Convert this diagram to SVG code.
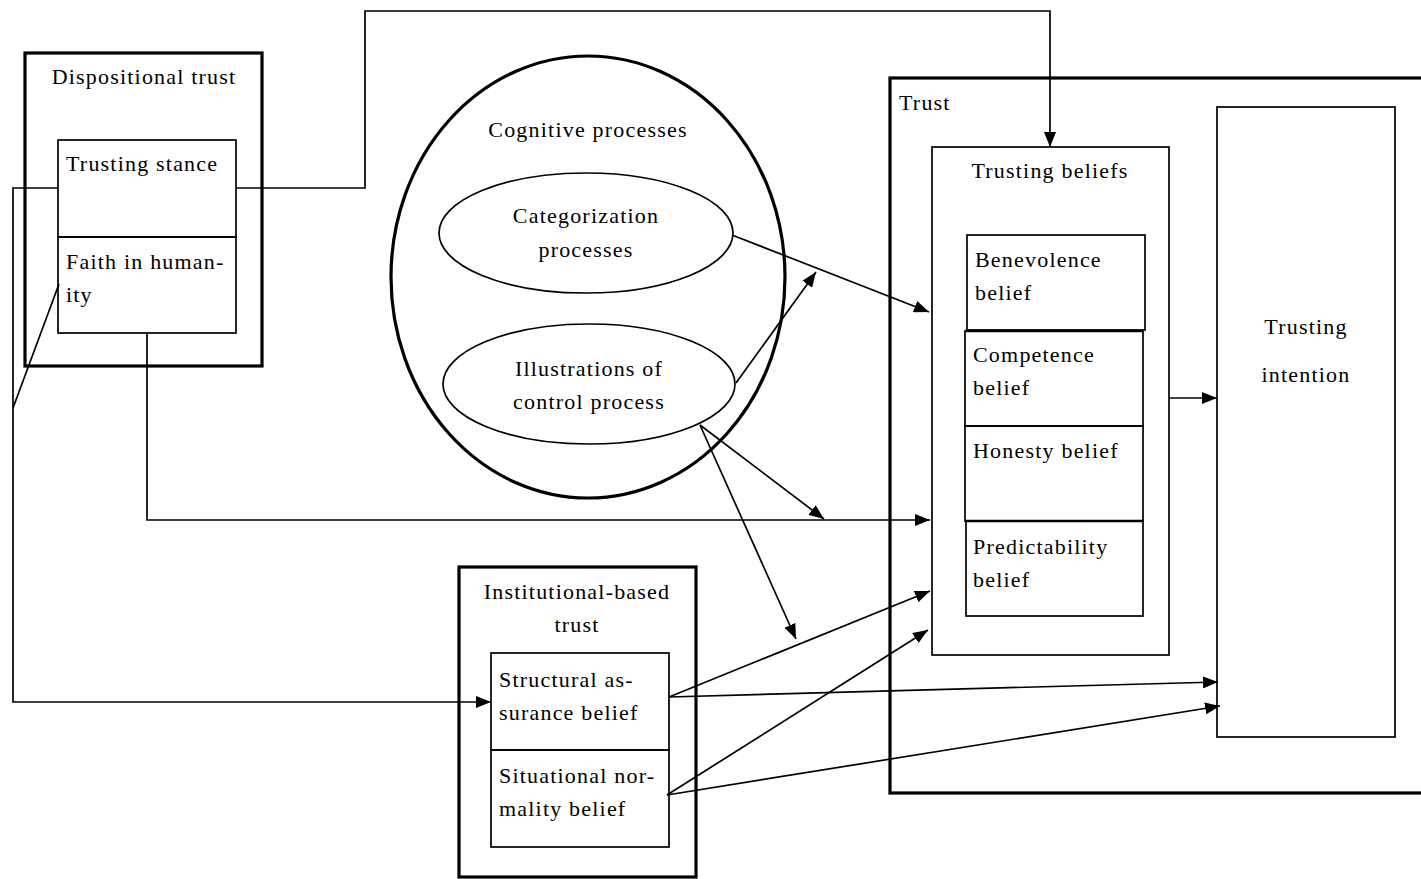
<svg xmlns="http://www.w3.org/2000/svg" width="1421" height="879" viewBox="0 0 1421 879">
  <style>
    text { font-family: "Liberation Serif", "Times New Roman", serif; font-size: 22px; fill: #000; letter-spacing: 1.2px; }
    .mid { text-anchor: middle; }
    .thick { fill: none; stroke: #000; stroke-width: 3.2; }
    .thin { fill: none; stroke: #000; stroke-width: 1.7; }
    .wire { fill: none; stroke: #000; stroke-width: 1.7; }
  </style>
  <defs>
    <marker id="arrow" viewBox="0 0 15 12" refX="15" refY="6" markerWidth="15" markerHeight="12" markerUnits="userSpaceOnUse" orient="auto">
      <path d="M0,0 L15,6 L0,12 Z" fill="#000"/>
    </marker>
  </defs>
  <rect width="1421" height="879" fill="#fff"/>

  <!-- Trust (outer container, right edge runs off the canvas) -->
  <g id="trust">
    <rect x="890" y="78" width="545" height="715" class="thick"/>
    <text x="899" y="110">Trust</text>
  </g>

  <!-- Trusting beliefs with its four components -->
  <g id="trusting-beliefs">
    <rect x="932" y="147" width="237" height="508" class="thin"/>
    <text x="1050" y="178" class="mid">Trusting beliefs</text>
  </g>
  <g id="benevolence">
    <rect x="967" y="235" width="178" height="95" class="thin"/>
    <text x="975" y="267">Benevolence</text>
    <text x="975" y="300">belief</text>
  </g>
  <g id="competence">
    <rect x="965" y="331" width="178" height="95" class="thin"/>
    <line x1="965" y1="331" x2="1143" y2="331" stroke="#000" stroke-width="2.6"/>
    <text x="973" y="362">Competence</text>
    <text x="973" y="395">belief</text>
  </g>
  <g id="honesty">
    <rect x="965" y="426" width="178" height="95" class="thin"/>
    <text x="973" y="458">Honesty belief</text>
  </g>
  <g id="predictability">
    <rect x="966" y="521" width="177" height="95" class="thin"/>
    <line x1="966" y1="521" x2="1143" y2="521" stroke="#000" stroke-width="2.6"/>
    <text x="973" y="554">Predictability</text>
    <text x="973" y="587">belief</text>
  </g>

  <!-- Trusting intention -->
  <g id="trusting-intention">
    <rect x="1217" y="107" width="178" height="630" class="thin"/>
    <text x="1306" y="334" class="mid">Trusting</text>
    <text x="1306" y="382" class="mid">intention</text>
  </g>

  <!-- Dispositional trust -->
  <g id="dispositional-trust">
    <rect x="25" y="53" width="237" height="313" class="thick"/>
    <text x="144" y="84" class="mid">Dispositional trust</text>
  </g>
  <g id="trusting-stance">
    <rect x="58" y="140" width="178" height="97" class="thin"/>
    <text x="66" y="171">Trusting stance</text>
  </g>
  <g id="faith-in-humanity">
    <rect x="58" y="237" width="178" height="96" class="thin"/>
    <text x="66" y="269">Faith in human-</text>
    <text x="66" y="302">ity</text>
  </g>

  <!-- Cognitive processes -->
  <g id="cognitive-processes">
    <ellipse cx="588" cy="277" rx="197" ry="221" class="thick"/>
    <text x="588" y="137" class="mid">Cognitive processes</text>
  </g>
  <g id="categorization">
    <ellipse cx="586" cy="233" rx="147" ry="60" class="thin"/>
    <text x="586" y="223" class="mid">Categorization</text>
    <text x="586" y="257" class="mid">processes</text>
  </g>
  <g id="illustrations">
    <ellipse cx="589" cy="384" rx="146" ry="60" class="thin"/>
    <text x="589" y="376" class="mid">Illustrations of</text>
    <text x="589" y="409" class="mid">control process</text>
  </g>

  <!-- Institutional-based trust -->
  <g id="institutional-trust">
    <rect x="459" y="567" width="237" height="310" class="thick"/>
    <text x="577" y="599" class="mid">Institutional-based</text>
    <text x="577" y="632" class="mid">trust</text>
  </g>
  <g id="structural-assurance">
    <rect x="491" y="653" width="178" height="97" class="thin"/>
    <text x="499" y="687">Structural as-</text>
    <text x="499" y="720">surance belief</text>
  </g>
  <g id="situational-normality">
    <rect x="491" y="750" width="178" height="97" class="thin"/>
    <text x="499" y="783">Situational nor-</text>
    <text x="499" y="816">mality belief</text>
  </g>

  <!-- Connectors -->
  <g id="connectors">
    <polyline class="wire" points="236,188 365,188 365,11 1050,11 1050,147" marker-end="url(#arrow)"/>
    <polyline class="wire" points="58,188 13,188 13,702 491,702" marker-end="url(#arrow)"/>
    <line class="wire" x1="13" y1="408" x2="59" y2="284"/>
    <polyline class="wire" points="147,333 147,520 930,520" marker-end="url(#arrow)"/>
    <line class="wire" x1="732" y1="235" x2="929" y2="312" marker-end="url(#arrow)"/>
    <line class="wire" x1="736" y1="383" x2="816" y2="272" marker-end="url(#arrow)"/>
    <line class="wire" x1="700" y1="425" x2="824" y2="519" marker-end="url(#arrow)"/>
    <line class="wire" x1="700" y1="425" x2="796" y2="639" marker-end="url(#arrow)"/>
    <line class="wire" x1="1169" y1="398" x2="1217" y2="398" marker-end="url(#arrow)"/>
    <line class="wire" x1="669" y1="697" x2="930" y2="591" marker-end="url(#arrow)"/>
    <line class="wire" x1="669" y1="697" x2="1218" y2="682" marker-end="url(#arrow)"/>
    <line class="wire" x1="667" y1="795" x2="928" y2="630" marker-end="url(#arrow)"/>
    <line class="wire" x1="667" y1="795" x2="1220" y2="706" marker-end="url(#arrow)"/>
  </g>
</svg>
